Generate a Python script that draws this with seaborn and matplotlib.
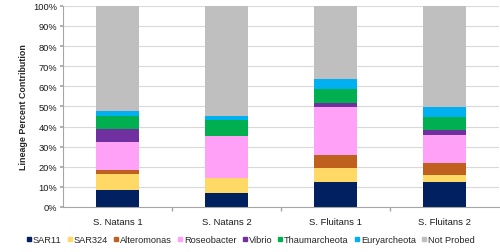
import matplotlib
matplotlib.use("Agg")
import matplotlib.pyplot as plt
from matplotlib.lines import Line2D
import matplotlib.ticker as mticker
import seaborn as sns
import numpy as np

samples = ["S. Natans 1", "S. Natans 2", "S. Fluitans 1", "S. Fluitans 2"]
lineages = ["SAR11", "SAR324", "Alteromonas", "Roseobacter", "Vibrio",
            "Thaumarcheota", "Euryarcheota", "Not Probed"]

sar11 = [8.2, 6.8, 12.4, 12.3]
sar324 = [8.0, 7.6, 6.8, 3.8]
alteromonas = [2.2, 0.2, 6.8, 5.6]
roseobacter = [14.1, 20.7, 23.8, 14.2]
vibrio = [6.1, 0.2, 2.0, 2.2]
thaumarcheota = [6.4, 7.6, 7.0, 6.8]
euryarcheota = [2.7, 2.1, 4.6, 4.9]
not_probed = [52.3, 54.8, 36.6, 50.2]

colors = ["#002060", "#FFD966", "#C0601F", "#FFA1F7", "#7030A0",
          "#00B050", "#00B0F0", "#BFBFBF"]

series = [sar11, sar324, alteromonas, roseobacter, vibrio,
          thaumarcheota, euryarcheota, not_probed]

sns.set_theme(style="whitegrid")
plt.rcParams["font.family"] = ["Liberation Sans", "DejaVu Sans"]

fig = plt.figure(figsize=(5, 2.53), dpi=100)
ax = fig.add_axes([0.126, 0.178, 0.872, 0.795])

tops = np.cumsum(np.array(series), axis=0)
# draw cumulative totals from the top down so lower segments overlay
for i in reversed(range(len(series))):
    sns.barplot(x=samples, y=tops[i], color=colors[i], width=0.4,
                ax=ax, saturation=1, linewidth=0)

ax.set_ylim(0, 100)
ax.set_xlim(-0.5, 3.5)
ax.yaxis.set_major_locator(mticker.MultipleLocator(10))
ax.yaxis.set_major_formatter(mticker.FormatStrFormatter("%d%%"))
ax.set_ylabel("Lineage Percent Contribution", fontsize=6.4,
              fontweight="bold", labelpad=4)
ax.set_xlabel("")
ax.grid(axis="y", color="#d9d9d9", linewidth=0.8)
ax.grid(axis="x", visible=False)
ax.set_axisbelow(True)

for s in ["top", "right"]:
    ax.spines[s].set_visible(False)
for s in ["left", "bottom"]:
    ax.spines[s].set_visible(True)
    ax.spines[s].set_color("#a6a6a6")
    ax.spines[s].set_linewidth(0.8)

ax.tick_params(axis="y", labelsize=6.7, length=2, color="#a6a6a6",
               left=True, pad=2, labelcolor="#1a1a1a")
ax.set_xticks(range(len(samples)))
ax.set_xticklabels(samples, fontsize=6.8, color="#1a1a1a")
ax.tick_params(axis="x", length=0, pad=7)
ax.set_xticks([0.5, 1.5, 2.5], minor=True)
ax.tick_params(axis="x", which="minor", length=3, color="#a6a6a6", bottom=True)

handles = [Line2D([0], [0], marker="s", linestyle="None", markersize=3.0,
                  markerfacecolor=c, markeredgecolor=c, label=l)
           for c, l in zip(colors, lineages)]
fig.legend(handles=handles, loc="center", bbox_to_anchor=(0.502, 0.048),
           ncol=8, frameon=False, fontsize=6.7, handlelength=0.35,
           handletextpad=0.25, columnspacing=0.7, borderaxespad=0)

fig.savefig("out.png", dpi=100)
